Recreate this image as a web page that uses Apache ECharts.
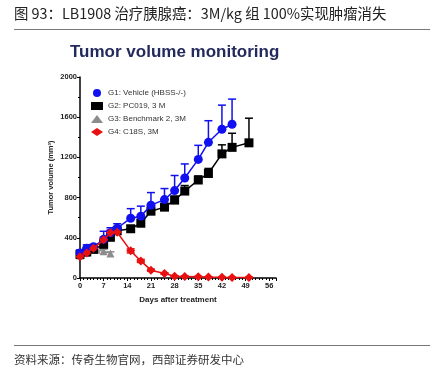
<!DOCTYPE html>
<html><head><meta charset="utf-8">
<script src="https://cdn.jsdelivr.net/npm/echarts@6/dist/echarts.min.js"></script>
<style>html,body{margin:0;padding:0;background:#fff}#c{width:441px;height:379px}</style>
</head><body><div id="c"></div>
<script>
const xTicks = [0, 7, 14, 21, 28, 35, 42, 49, 56];
const yTicks = [0, 400, 800, 1200, 1600, 2000];
const g1Days = [0, 2, 4, 7, 9, 11, 15, 18, 21, 25, 28, 31, 35, 38, 42, 45];
const g1Mean = [250, 295, 310, 385, 450, 495, 595, 615, 725, 780, 870, 995, 1180, 1350, 1480, 1530];
const g1Err  = [30, 35, 25, 80, 50, 45, 95, 100, 125, 110, 150, 140, 140, 215, 240, 250];
const g2Days = [0, 2, 4, 7, 9, 11, 15, 18, 21, 25, 28, 31, 35, 38, 42, 45, 50];
const g2Mean = [235, 260, 285, 335, 405, 470, 490, 545, 665, 705, 775, 865, 975, 1040, 1235, 1300, 1345];
const g2Err  = [20, 20, 20, 30, 30, 30, 30, 40, 40, 35, 40, 55, 40, 50, 90, 140, 245];
const g3Days = [0, 2, 5, 7, 9];
const g3Mean = [225, 250, 280, 265, 245];
const g3Err  = [15, 15, 20, 20, 15];
const g4Days = [0, 2, 4, 7, 9, 11, 15, 18, 21, 25, 28, 31, 35, 38, 42, 45, 50];
const g4Mean = [212, 250, 295, 380, 450, 455, 270, 170, 78, 45, 18, 16, 12, 9, 7, 6, 6];
const g4Err  = [15, 15, 20, 25, 25, 20, 20, 15, 10, 8, 5, 5, 4, 3, 3, 3, 3];
const names = ['G1: Vehicle (HBSS-/-)', 'G2: PC019, 3 M', 'G3: Benchmark 2, 3M', 'G4: C18S, 3M'];
const colors = ['#1010f0', '#000000', '#8c8c8c', '#e81010'];

function pts(d, m) { return d.map((x, i) => [x, m[i]]); }
function errPts(d, m, e) { return d.map((x, i) => [x, m[i], e[i]]); }

function errSeries(data, color, both) {
  return {
    type: 'custom', z: 1, silent: true,
    data: data,
    renderItem: function (params, api) {
      const x = api.value(0), m = api.value(1), e = api.value(2);
      const top = api.coord([x, m + e]);
      const bot = api.coord([x, both ? m - e : m]);
      const w = 4;
      const children = [
        {type: 'line', shape: {x1: top[0], y1: top[1], x2: bot[0], y2: bot[1]}, style: {stroke: color, lineWidth: 1.5}},
        {type: 'line', shape: {x1: top[0] - w, y1: top[1], x2: top[0] + w, y2: top[1]}, style: {stroke: color, lineWidth: 1.5}}
      ];
      if (both) children.push({type: 'line', shape: {x1: bot[0] - w, y1: bot[1], x2: bot[0] + w, y2: bot[1]}, style: {stroke: color, lineWidth: 1.5}});
      return {type: 'group', children: children};
    }
  };
}

const chart = echarts.init(document.getElementById('c'), null, {renderer: 'canvas'});
const lbl = {fontFamily: 'Liberation Sans, Arial', fontWeight: 'bold', fontSize: 7.5, color: '#222'};
chart.setOption({
  animation: false,
  backgroundColor: '#fff',
  graphic: [
    {type: 'text', left: 14, top: 6, style: {text: '图 93：LB1908 治疗胰腺癌：3M/kg 组 100%实现肿瘤消失', font: '14.4px "Noto Sans CJK SC"', fill: '#222'}},
    {type: 'rect', shape: {x: 14, y: 29, width: 416, height: 1}, style: {fill: '#777'}},
    {type: 'text', left: 70, top: 44, style: {text: 'Tumor volume monitoring', font: 'bold 17px "Liberation Sans", Arial', fill: '#232a5c'}},
    {type: 'rect', shape: {x: 14, y: 345, width: 416, height: 1}, style: {fill: '#777'}},
    {type: 'text', left: 14, top: 354, style: {text: '资料来源：传奇生物官网，西部证券研发中心', font: '11.5px "Noto Sans CJK SC"', fill: '#333'}}
  ],
  legend: {
    left: 86, top: 84, orient: 'vertical', itemGap: 5, itemWidth: 12, itemHeight: 8,
    textStyle: {fontFamily: 'Liberation Sans, Arial', fontSize: 8, color: '#333'},
    data: names.map((n, i) => ({name: n, icon: ['circle', 'rect', 'triangle', 'diamond'][i]}))
  },
  grid: {left: 80, top: 77, width: 196, height: 201},
  xAxis: {
    type: 'value', min: 0, max: 58, interval: 7,
    name: 'Days after treatment', nameLocation: 'middle', nameGap: 18,
    nameTextStyle: {fontFamily: 'Liberation Sans, Arial', fontWeight: 'bold', fontSize: 8, color: '#222'},
    axisLine: {lineStyle: {color: '#000', width: 1.5}},
    axisTick: {length: 3, lineStyle: {color: '#000'}},
    minorTick: {show: true, splitNumber: 7, length: 2, lineStyle: {color: '#000'}},
    axisLabel: Object.assign({margin: 4, formatter: v => xTicks.includes(v) ? String(v) : ''}, lbl),
    splitLine: {show: false}
  },
  yAxis: {
    type: 'value', min: 0, max: 2000, interval: 400,
    name: 'Tumor volume (mm³)', nameLocation: 'middle', nameGap: 25,
    nameTextStyle: {fontFamily: 'Liberation Sans, Arial', fontWeight: 'bold', fontSize: 7.5, color: '#222'},
    axisLine: {show: true, lineStyle: {color: '#000', width: 1.5}},
    axisTick: {show: true, length: 3, lineStyle: {color: '#000'}},
    minorTick: {show: true, splitNumber: 2, length: 2, lineStyle: {color: '#000'}},
    axisLabel: Object.assign({margin: 3, formatter: v => yTicks.includes(v) ? String(v) : ''}, lbl),
    splitLine: {show: false}
  },
  series: [
    errSeries(errPts(g1Days, g1Mean, g1Err), colors[0], false),
    errSeries(errPts(g2Days, g2Mean, g2Err), colors[1], false),
    errSeries(errPts(g3Days, g3Mean, g3Err), colors[2], false),
    errSeries(errPts(g4Days, g4Mean, g4Err), colors[3], true),
    {name: names[2], type: 'line', data: pts(g3Days, g3Mean), symbol: 'triangle', symbolSize: 8, color: colors[2], lineStyle: {width: 1.5}, z: 2},
    {name: names[1], type: 'line', data: pts(g2Days, g2Mean), symbol: 'rect', symbolSize: 9, color: colors[1], lineStyle: {width: 1.5}, z: 3},
    {name: names[0], type: 'line', data: pts(g1Days, g1Mean), symbol: 'circle', symbolSize: 9, color: colors[0], lineStyle: {width: 1.5}, z: 4},
    {name: names[3], type: 'line', data: pts(g4Days, g4Mean), symbol: 'diamond', symbolSize: 9, color: colors[3], lineStyle: {width: 1.5}, z: 5}
  ]
});
</script></body></html>
